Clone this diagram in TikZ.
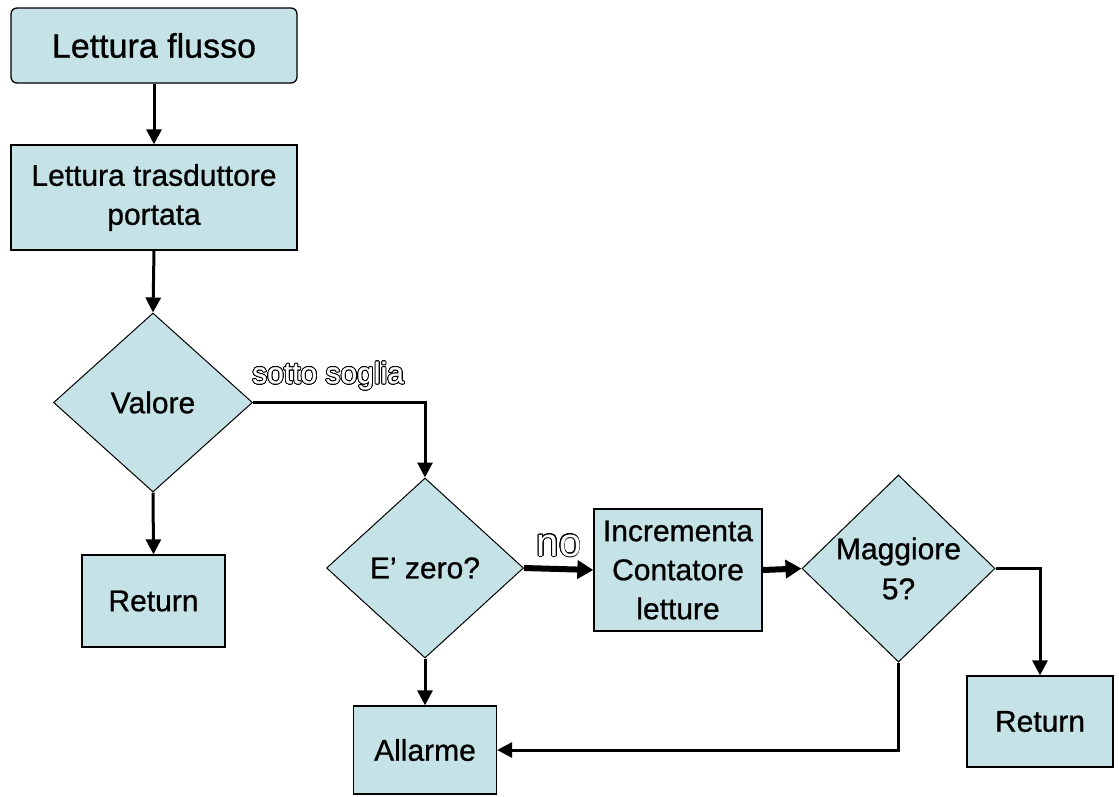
\documentclass[tikz,border=0pt]{standalone}
\usepackage{fontspec}
\setmainfont{Liberation Sans}
\newfontfamily\boxfont{Liberation Sans}[FakeBold=0.8,Ligatures=TeX]
\usepackage{contour}
\contournumber{16}
\contourlength{0.9pt}
\usetikzlibrary{shapes.geometric,arrows.meta}
\definecolor{boxfill}{RGB}{197,226,230}
\tikzset{
  box/.style={draw=black, line width=1.3pt, fill=boxfill, inner sep=0pt, align=center,
    font=\boxfont\fontsize{30}{39}\selectfont},
  dec/.style={diamond, draw=black, line width=1pt, fill=boxfill, inner sep=0pt, align=center,
    font=\boxfont\fontsize{30}{40}\selectfont},
  conn/.style={line width=3pt, -{Triangle[width=15pt,length=15pt]}},
  thickconn/.style={line width=6pt, -{Triangle[width=18pt,length=16pt]}},
  hollow/.style={text=white, inner sep=0pt}
}
\begin{document}
\begin{tikzpicture}[x=1pt,y=-1pt]
\useasboundingbox[fill=white] (0,0) rectangle (1119,796);
\node[box, rounded corners=6pt, minimum width=286pt, minimum height=75pt, font=\boxfont\fontsize{34}{40}\selectfont] (flusso) at (154,45.5) {Lettura flusso};
\node[box, minimum width=286pt, minimum height=105pt] (trasd) at (154,197.5) {Lettura trasduttore\\portata};
\node[dec, minimum width=199pt, minimum height=179pt] (valore) at (153,402.5) {Valore};
\node[box, minimum width=143pt, minimum height=92pt] (ret1) at (153.5,601) {Return};
\node[dec, minimum width=197pt, minimum height=180pt] (ezero) at (425,568) {E’ zero?};
\node[box, minimum width=168pt, minimum height=122pt] (incr) at (678,570) {Incrementa\\Contatore\\letture};
\node[dec, minimum width=193pt, minimum height=181pt] (magg) at (898.5,568.5) {Maggiore\\5?};
\node[box, minimum width=146pt, minimum height=91pt] (ret2) at (1040,721.5) {Return};
\node[box, minimum width=143pt, minimum height=88pt] (allarme) at (425,750) {Allarme};

\draw[conn] (flusso.south) -- (trasd.north);
\draw[conn] (trasd.south) -- (valore.north);
\draw[conn] (valore.south) -- (ret1.north);
\draw[conn] (valore.east) -| (ezero.north);
\draw[conn] (ezero.south) -- (allarme.north);
\draw[thickconn] (ezero.east) -- (incr.west);
\draw[thickconn] (incr.east) -- (magg.west);
\draw[conn] (magg.east) -| (ret2.north);
\draw[conn] (magg.south) |- (allarme.east);

\node[hollow, font=\boxfont\fontsize{30}{36}\selectfont] (lblsotto) at (328,376) {\contour{black}{sotto soglia}};
\node[hollow, font=\fontsize{40}{44}\selectfont] (lblno) at (559,546) {\contour{black}{no}};
\end{tikzpicture}
\end{document}
